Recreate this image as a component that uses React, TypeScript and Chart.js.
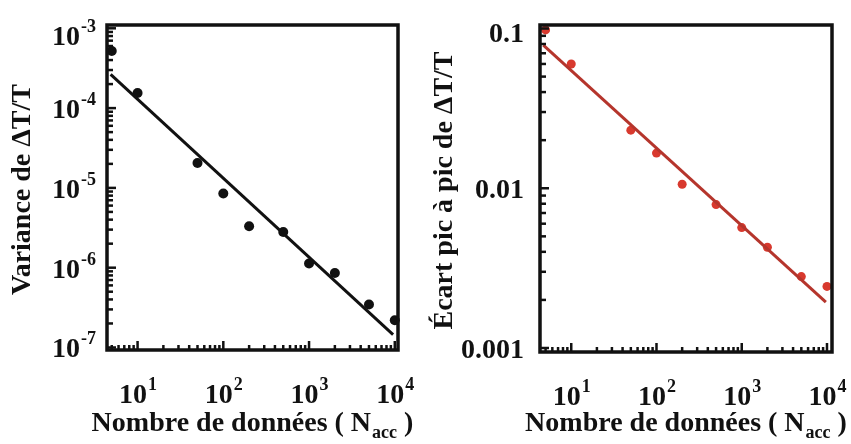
import React, { useEffect, useRef } from "react";
import { Chart, registerables } from "chart.js";

Chart.register(...registerables);

// ---- data ----
const nAcc = [5, 10, 50, 100, 200, 500, 1000, 2000, 5000, 10000];
const varianceValues = [5.2e-4, 1.55e-4, 2.05e-5, 8.5e-6, 3.3e-6, 2.8e-6, 1.13e-6, 8.6e-7, 3.45e-7, 2.2e-7];
const varianceFitX = [4.85, 9550];
const varianceFitY = [2.64e-4, 1.45e-7];
const peakValues = [0.098, 0.06, 0.0231, 0.0166, 0.0106, 0.0079, 0.00567, 0.00427, 0.0028, 0.00243];
const peakFitX = [4.7, 9700];
const peakFitY = [0.0788, 0.00194];

const xTickValues = [10, 100, 1000, 10000];
const xTickExponents = ["1", "2", "3", "4"];
const varianceTickValues = [1e-3, 1e-4, 1e-5, 1e-6, 1e-7];
const varianceTickExponents = ["-3", "-4", "-5", "-6", "-7"];
const peakTickValues = [0.1, 0.01, 0.001];
const peakTickLabels = ["0.1", "0.01", "0.001"];

const xTitleMain = "Nombre de données ( N";
const xTitleSub = "acc";
const xTitleEnd = " )";
const varianceTitle = "Variance de ΔT/T";
const peakTitle = "Écart pic à pic de ΔT/T";

const FONT = "'Liberation Serif', 'Times New Roman', serif";

type PanelCfg = {
  width: number;
  padding: { left: number; right: number; top: number; bottom: number };
  xMin: number;
  xMax: number;
  yMin: number;
  yMax: number;
  values: number[];
  fitX: number[];
  fitY: number[];
  pointColor: string;
  lineColor: string;
  pointRadius: number;
  yTicks: number[];
  yExps?: string[];
  yLabels?: string[];
  yTitle: string;
  yTitleX: number;
};

function makeAxesPlugin(cfg: PanelCfg) {
  return {
    id: "customAxes",
    afterDraw(chart: any) {
      const ctx: CanvasRenderingContext2D = chart.ctx;
      const { left, right, top, bottom } = chart.chartArea;
      const xs = chart.scales.x;
      const ys = chart.scales.y;
      ctx.save();
      ctx.strokeStyle = "#111";
      ctx.fillStyle = "#111";
      ctx.lineWidth = 2.5;
      ctx.lineCap = "butt";
      const seg = (x1: number, y1: number, x2: number, y2: number) => {
        ctx.beginPath();
        ctx.moveTo(x1, y1);
        ctx.lineTo(x2, y2);
        ctx.stroke();
      };
      // x ticks (inward, bottom)
      for (let e = 0; e <= 4; e++) {
        for (let m = 1; m <= 9; m++) {
          const v = m * Math.pow(10, e);
          if (v < xs.min || v > xs.max) continue;
          const px = xs.getPixelForValue(v);
          seg(px, bottom, px, bottom - (m === 1 ? 9 : 5));
        }
      }
      // y ticks (inward, left)
      const eLo = Math.floor(Math.log10(ys.min));
      const eHi = Math.ceil(Math.log10(ys.max));
      for (let e = eLo; e <= eHi; e++) {
        for (let m = 1; m <= 9; m++) {
          const v = m * Math.pow(10, e);
          if (v < ys.min || v > ys.max) continue;
          const py = ys.getPixelForValue(v);
          seg(left, py, left + (m === 1 ? 9 : 6), py);
        }
      }
      // frame
      ctx.lineWidth = 3.5;
      ctx.strokeRect(left, top, right - left, bottom - top);

      // x tick labels
      const bigFont = `bold 28px ${FONT}`;
      const supFont = `bold 18px ${FONT}`;
      ctx.textBaseline = "alphabetic";
      xTickValues.forEach((v, i) => {
        const px = xs.getPixelForValue(v);
        ctx.font = bigFont;
        const wBase = ctx.measureText("10").width;
        ctx.font = supFont;
        const wExp = ctx.measureText(xTickExponents[i]).width;
        const x0 = px - (wBase + wExp) / 2;
        const base = bottom + 53;
        ctx.font = bigFont;
        ctx.textAlign = "left";
        ctx.fillText("10", x0, base);
        ctx.font = supFont;
        ctx.fillText(xTickExponents[i], x0 + wBase + 1, base - 13);
      });

      // y tick labels
      const labelRight = left - 11;
      cfg.yTicks.forEach((v, i) => {
        const py = ys.getPixelForValue(v);
        let base = py + 10;
        if (cfg.yExps) {
          base = Math.max(base, 45);
          ctx.font = supFont;
          const wExp = ctx.measureText(cfg.yExps[i]).width;
          ctx.textAlign = "left";
          ctx.fillText(cfg.yExps[i], labelRight - wExp, base - 13);
          ctx.font = bigFont;
          ctx.textAlign = "right";
          ctx.fillText("10", labelRight - wExp - 1, base);
        } else if (cfg.yLabels) {
          base = Math.max(base, 42);
          ctx.font = bigFont;
          ctx.textAlign = "right";
          ctx.fillText(cfg.yLabels[i], labelRight - 5, base);
        }
      });

      // y title
      ctx.save();
      ctx.translate(cfg.yTitleX, (top + bottom) / 2 + 2);
      ctx.rotate(-Math.PI / 2);
      ctx.font = bigFont;
      ctx.textAlign = "center";
      ctx.textBaseline = "middle";
      ctx.fillText(cfg.yTitle, 0, 0);
      ctx.restore();

      // x title with subscript
      ctx.textBaseline = "alphabetic";
      ctx.textAlign = "left";
      ctx.font = bigFont;
      const w1 = ctx.measureText(xTitleMain).width;
      const w3 = ctx.measureText(xTitleEnd).width;
      ctx.font = supFont;
      const w2 = ctx.measureText(xTitleSub).width;
      const total = w1 + w2 + w3 + 1;
      const cx = (left + right) / 2;
      let x = cx - total / 2;
      const tb = 431;
      ctx.font = bigFont;
      ctx.fillText(xTitleMain, x, tb);
      x += w1 + 1;
      ctx.font = supFont;
      ctx.fillText(xTitleSub, x, tb + 7);
      x += w2;
      ctx.font = bigFont;
      ctx.fillText(xTitleEnd, x, tb);
      ctx.restore();
    },
  };
}

function Panel({ cfg }: { cfg: PanelCfg }) {
  const ref = useRef<HTMLCanvasElement>(null);
  useEffect(() => {
    const points = nAcc.map((n, i) => ({ x: n, y: cfg.values[i] }));
    const fit = cfg.fitX.map((n, i) => ({ x: n, y: cfg.fitY[i] }));
    const chart = new Chart(ref.current as HTMLCanvasElement, {
      type: "scatter",
      data: {
        datasets: [
          {
            data: fit,
            showLine: true,
            borderColor: cfg.lineColor,
            borderWidth: 3,
            pointRadius: 0,
            fill: false,
            clip: false as any,
          },
          {
            data: points,
            showLine: false,
            backgroundColor: cfg.pointColor,
            borderColor: cfg.pointColor,
            borderWidth: 0,
            pointRadius: cfg.pointRadius,
            clip: false as any,
          },
        ],
      },
      options: {
        animation: false,
        responsive: false,
        devicePixelRatio: 1,
        layout: { padding: cfg.padding },
        plugins: { legend: { display: false }, tooltip: { enabled: false } },
        scales: {
          x: { type: "logarithmic", min: cfg.xMin, max: cfg.xMax, display: false },
          y: { type: "logarithmic", min: cfg.yMin, max: cfg.yMax, display: false },
        },
      },
      plugins: [makeAxesPlugin(cfg) as any],
    });
    return () => chart.destroy();
  }, []);
  return (
    <canvas
      ref={ref}
      width={cfg.width}
      height={444}
      style={{ display: "block", width: cfg.width, height: 444 }}
    />
  );
}

const leftCfg: PanelCfg = {
  width: 425,
  padding: { left: 107, right: 27, top: 25, bottom: 94 },
  xMin: 4.4,
  xMax: 10900,
  yMin: 0.93e-7,
  yMax: 1.1e-3,
  values: varianceValues,
  fitX: varianceFitX,
  fitY: varianceFitY,
  pointColor: "#111111",
  lineColor: "#111111",
  pointRadius: 5,
  yTicks: varianceTickValues,
  yExps: varianceTickExponents,
  yTitle: varianceTitle,
  yTitleX: 23,
};

const rightCfg: PanelCfg = {
  width: 426,
  padding: { left: 115, right: 19, top: 25, bottom: 92 },
  xMin: 4.3,
  xMax: 11450,
  yMin: 0.000944,
  yMax: 0.1052,
  values: peakValues,
  fitX: peakFitX,
  fitY: peakFitY,
  pointColor: "#d8392e",
  lineColor: "#b5352c",
  pointRadius: 4.5,
  yTicks: peakTickValues,
  yLabels: peakTickLabels,
  yTitle: peakTitle,
  yTitleX: 20,
};

export default function App() {
  return (
    <div
      style={{
        position: "absolute",
        left: 0,
        top: 0,
        width: 851,
        height: 444,
        display: "flex",
        background: "#ffffff",
      }}
    >
      <Panel cfg={leftCfg} />
      <Panel cfg={rightCfg} />
    </div>
  );
}
